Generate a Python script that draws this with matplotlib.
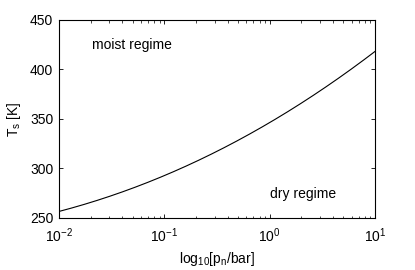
import numpy as np
import matplotlib
matplotlib.use("Agg")
import matplotlib.pyplot as plt
from matplotlib.ticker import LogLocator, NullFormatter

pressure_bar = [0.01, 0.0316, 0.1, 0.316, 1.0, 3.16, 10.0]
surface_temp_K = [256, 273.2, 293.5, 317, 343, 384, 417]

plt.rcParams['font.family'] = ['Liberation Sans', 'DejaVu Sans']
plt.rcParams['mathtext.fontset'] = 'custom'
plt.rcParams['mathtext.rm'] = 'Liberation Sans'
plt.rcParams['mathtext.it'] = 'Liberation Sans'

fig = plt.figure(figsize=(4.15, 2.7), dpi=100)
ax = fig.add_axes([0.142, 0.193, 0.762, 0.733])

# smooth interpolation in log-space for drawing only
lx = np.log10(pressure_bar)
xs = np.linspace(lx[0], lx[-1], 200)
coef = np.polyfit(lx, surface_temp_K, 3)
ax.plot(10**xs, np.polyval(coef, xs), color='black', lw=0.8)

ax.set_xscale('log')
ax.set_xlim(1e-2, 1e1)
ax.set_ylim(250, 450)
ax.set_yticks([250, 300, 350, 400, 450])
ax.xaxis.set_minor_locator(LogLocator(base=10, subs=np.arange(2, 10)))
ax.xaxis.set_minor_formatter(NullFormatter())
ax.tick_params(which='both', direction='in', top=True, right=True, labelsize=10)
ax.tick_params(which='major', length=3, width=0.6)
ax.tick_params(which='minor', length=1.8, width=0.5)
ax.tick_params(axis='x', which='major', pad=6)
ax.tick_params(axis='y', which='major', pad=4)
for s in ax.spines.values():
    s.set_linewidth(0.8)

ax.text(0.0206, 425, 'moist regime', fontsize=10, va='center', ha='left')
ax.text(1.0, 274, 'dry regime', fontsize=10, va='center', ha='left')

ax.set_xlabel(r'log$_{10}$[p$_{\rm n}$/bar]', fontsize=10, labelpad=4)
ax.set_ylabel(r'T$_{\rm s}$ [K]', fontsize=10, labelpad=5)

fig.savefig('out.png', dpi=100)
